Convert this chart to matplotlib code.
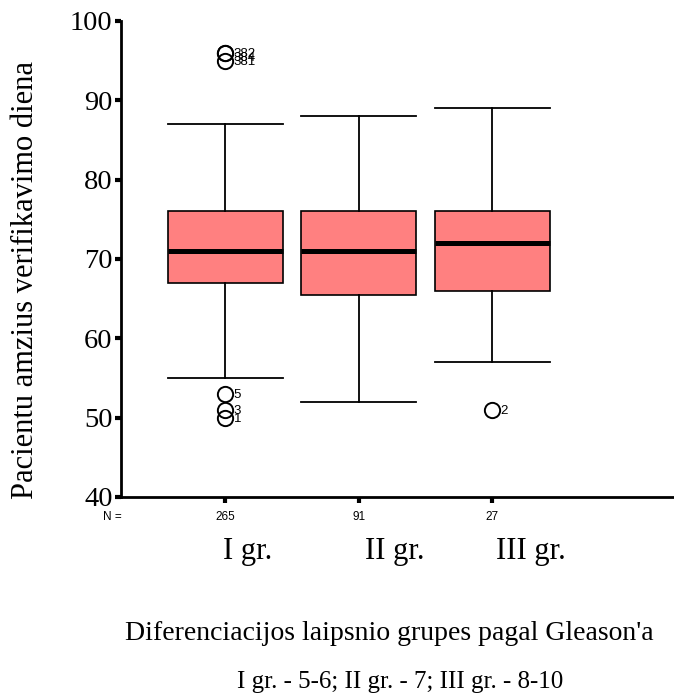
import matplotlib.pyplot as plt
from matplotlib.transforms import blended_transform_factory

# grupes pagal Gleason'a
groups = ["I gr.", "II gr.", "III gr."]
n_counts = [265, 91, 27]

q1 = [67, 65.5, 66]
medians = [71, 71, 72]
q3 = [76, 76, 76]
whisk_lo = [55, 52, 57]
whisk_hi = [87, 88, 89]

# isskirtys: reiksmes ir atveju numeriai
outlier_vals = [[96, 96, 95, 53, 51, 50], [], [51]]
outlier_ids = [["382", "384", "381", "5", "3", "1"], [], ["2"]]

serif = "Liberation Serif"
sans = "Liberation Sans"

fig = plt.figure(figsize=(6.74, 6.95), dpi=100)
ax = fig.add_axes([121 / 674, 1 - 497 / 695, (674 - 121) / 674, (497 - 21) / 695])

positions = [1, 2, 3]
stats = []
for i, g in enumerate(groups):
    stats.append({
        "label": g,
        "q1": q1[i], "med": medians[i], "q3": q3[i],
        "whislo": whisk_lo[i], "whishi": whisk_hi[i],
        "fliers": outlier_vals[i],
    })

ax.bxp(stats, positions=positions, widths=0.86, capwidths=0.86, patch_artist=True,
       boxprops=dict(facecolor="#ff8080", edgecolor="black", linewidth=1.2),
       medianprops=dict(color="black", linewidth=3.6),
       whiskerprops=dict(color="black", linewidth=1.3),
       capprops=dict(color="black", linewidth=1.3),
       flierprops=dict(marker="o", markersize=11, markerfacecolor="none",
                       markeredgecolor="black", markeredgewidth=1.4))

# isskirciu numeriai salia apskritimu
for pos, vals, ids in zip(positions, outlier_vals, outlier_ids):
    seen = {}
    for v, lab in zip(vals, ids):
        k = seen.get(v, 0)
        seen[v] = k + 1
        ax.annotate(lab, (pos, v), xytext=(6, -1 - 3 * k), textcoords="offset points",
                    ha="left", va="center", fontsize=9.5, family=sans)

ax.set_xlim(0.22, 4.36)
ax.set_ylim(40, 100)
ax.set_yticks([40, 50, 60, 70, 80, 90, 100])
ax.set_xticks(positions)
ax.set_xticklabels([])
for lab in ax.get_yticklabels():
    lab.set_fontfamily(serif)
    lab.set_fontsize(20.5)

ax.spines["top"].set_visible(False)
ax.spines["right"].set_visible(False)
ax.spines["left"].set_linewidth(2)
ax.spines["bottom"].set_linewidth(2)
ax.tick_params(axis="y", length=4, width=3, pad=2)
ax.tick_params(axis="x", length=4, width=3)

trans = blended_transform_factory(ax.transData, fig.transFigure)
fig.text(112 / 674, 1 - 517 / 695, "N =", ha="center", va="center", fontsize=8.5, family=sans)
# grupiu pavadinimai pastumti i desine nuo padalu
name_shift = [16, 26, 28]
for pos, n, g, dx in zip(positions, n_counts, groups, name_shift):
    ax.text(pos, 1 - 517 / 695, str(n), transform=trans, ha="center", va="center",
            fontsize=8.5, family=sans)
    ax.annotate(g, (pos, 1 - 551 / 695), xycoords=trans, xytext=(dx, 0),
                textcoords="offset points", ha="center", va="center",
                fontsize=22, family=serif)

ax.set_ylabel("Pacientu amzius verifikavimo diena", fontsize=22, family=serif)
ax.yaxis.set_label_coords(40 / 674, 1 - 280 / 695, transform=fig.transFigure)

fig.text(389 / 674, 1 - 633 / 695, "Diferenciacijos laipsnio grupes pagal Gleason'a",
         ha="center", va="center", fontsize=20, family=serif)
fig.text(400 / 674, 1 - 682 / 695, "I gr. - 5-6; II gr. - 7; III gr. - 8-10",
         ha="center", va="center", fontsize=18, family=serif)

fig.savefig("out.png", dpi=100)
